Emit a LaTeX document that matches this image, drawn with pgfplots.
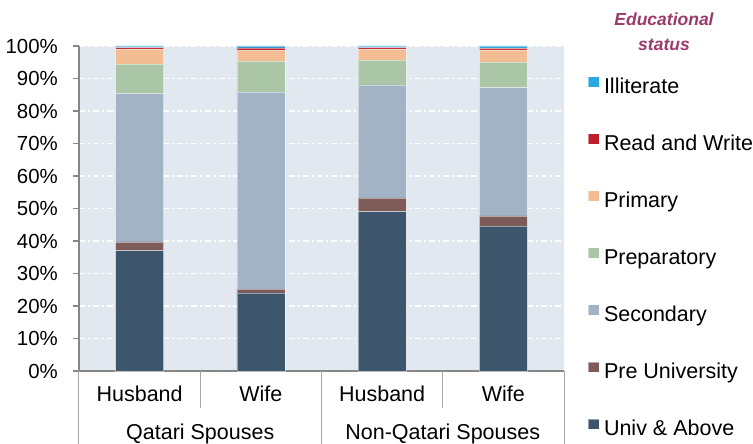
\documentclass[border=0pt]{standalone}
\usepackage{pgfplots}
\pgfplotsset{compat=1.18}
\usepackage{fontspec}
\setmainfont{Liberation Sans}
\definecolor{cUniv}{HTML}{3E566C}
\definecolor{cPre}{HTML}{7E5A59}
\definecolor{cSec}{HTML}{A1B3C5}
\definecolor{cPrep}{HTML}{ABC5A7}
\definecolor{cPrim}{HTML}{F4BC92}
\definecolor{cRW}{HTML}{BD1F2C}
\definecolor{cIll}{HTML}{2AA8E0}
\definecolor{bgc}{HTML}{E1E8EF}
\definecolor{axc}{HTML}{878787}
\definecolor{sepc}{HTML}{A6A6A6}
\definecolor{titlec}{HTML}{9C3A6B}
\begin{document}
\fontsize{21.5}{25}\selectfont
\begin{tikzpicture}
\path[use as bounding box] (-79pt,-73pt) rectangle (674pt,371pt);
\begin{axis}[
  at={(0pt,0pt)}, anchor=south west,
  scale only axis, width=485pt, height=325pt,
  xmin=-0.5, xmax=3.5, ymin=0, ymax=100,
  ybar stacked, bar width=48pt,
  axis background/.style={fill=bgc},
  axis x line*=bottom, axis y line*=left,
  axis line style={draw=axc, line width=1.5pt},
  xtick=\empty,
  ytick={0,10,...,100},
  yticklabel={\pgfmathprintnumber{\tick}\%},
  /pgf/number format/assume math mode=true,
  tick align=outside, major tick length=6pt,
  tick style={draw=axc, line width=1.5pt},
  yticklabel style={font=\fontsize{20.4}{24}\selectfont, inner sep=0pt, anchor=east, xshift=-15pt},
  ymajorgrids,
  major grid style={white, line width=1.2pt, dash pattern=on 6pt off 3pt on 2pt off 3pt},
  clip=false,
  reverse legend,
  legend cell align=left,
  legend style={at={(1.0495,0.9068)}, anchor=north west, draw=none, fill=none,
    inner sep=0pt, outer sep=0pt, row sep=36.3pt,
    nodes={inner sep=0pt, text height=15pt, text depth=4pt},
    /tikz/every odd column/.append style={column sep=5pt}},
  legend image code/.code={\fill[#1] (0pt,0.5pt) rectangle (10.5pt,11pt);},
  every axis plot/.append style={draw=white, draw opacity=0.45, line width=0.5pt},
]
\addplot[fill=cUniv] coordinates {(0,37.0) (1,24.0) (2,49.0) (3,44.6)};
\addlegendentry{Univ \& Above}
\addplot[fill=cPre] coordinates {(0,2.7) (1,1.2) (2,4.3) (3,3.1)};
\addlegendentry{Pre University}
\addplot[fill=cSec] coordinates {(0,45.7) (1,60.6) (2,34.7) (3,39.5)};
\addlegendentry{Secondary}
\addplot[fill=cPrep] coordinates {(0,9.1) (1,9.6) (2,7.7) (3,7.9)};
\addlegendentry{Preparatory}
\addplot[fill=cPrim] coordinates {(0,4.6) (1,3.2) (2,3.4) (3,3.7)};
\addlegendentry{Primary}
\addplot[fill=cRW] coordinates {(0,0.4) (1,0.8) (2,0.4) (3,0.5)};
\addlegendentry{Read and Write}
\addplot[fill=cIll] coordinates {(0,0.5) (1,0.6) (2,0.5) (3,0.7)};
\addlegendentry{Illiterate}
% category separators
\draw[sepc, line width=1pt] (axis cs:0.5,0) -- ([yshift=-37pt]axis cs:0.5,0);
\draw[sepc, line width=1pt] (axis cs:2.5,0) -- ([yshift=-37pt]axis cs:2.5,0);
\draw[sepc, line width=1pt] (axis cs:-0.5,0) -- ([yshift=-73pt]axis cs:-0.5,0);
\draw[sepc, line width=1pt] (axis cs:1.5,0) -- ([yshift=-73pt]axis cs:1.5,0);
\draw[sepc, line width=1pt] (axis cs:3.5,0) -- ([yshift=-73pt]axis cs:3.5,0);
\node[anchor=base] at ([yshift=-30.5pt]axis cs:0,0) {Husband};
\node[anchor=base] at ([yshift=-30.5pt]axis cs:1,0) {Wife};
\node[anchor=base] at ([yshift=-30.5pt]axis cs:2,0) {Husband};
\node[anchor=base] at ([yshift=-30.5pt]axis cs:3,0) {Wife};
\node[anchor=base] at ([yshift=-69pt]axis cs:0.5,0) {Qatari Spouses};
\node[anchor=base] at ([yshift=-69pt]axis cs:2.5,0) {Non-Qatari Spouses};
\end{axis}
\node[font=\fontsize{17.5}{20}\selectfont\bfseries\itshape, text=titlec, anchor=base] at (585pt,345pt) {Educational};
\node[font=\fontsize{17.5}{20}\selectfont\bfseries\itshape, text=titlec, anchor=base] at (585pt,320pt) {status};
\end{tikzpicture}
\end{document}
